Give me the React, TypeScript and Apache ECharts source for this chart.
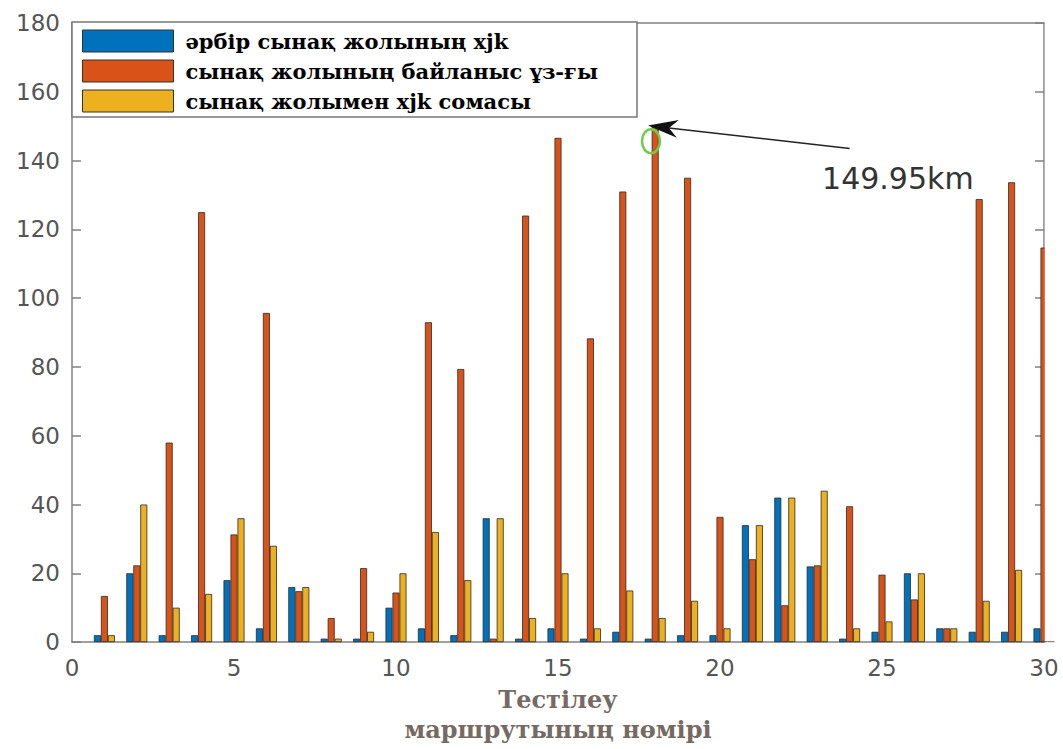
import React, { useEffect, useRef } from "react";
import * as echarts from "echarts";

const routes = [1, 2, 3, 4, 5, 6, 7, 8, 9, 10, 11, 12, 13, 14, 15, 16, 17, 18, 19, 20, 21, 22, 23, 24, 25, 26, 27, 28, 29, 30];
const seriesNames = [
  "әрбір сынақ жолының xjk",
  "сынақ жолының байланыс ұз-ғы",
  "сынақ жолымен xjk сомасы",
];
const blueValues = [2, 20, 2, 2, 18, 4, 16, 1, 1, 10, 4, 2, 36, 1, 4, 1, 3, 1, 2, 2, 34, 42, 22, 1, 3, 20, 4, 3, 3, 4];
const redValues = [13.4, 22.3, 58, 125, 31.3, 95.7, 14.8, 7, 21.5, 14.4, 93, 79.4, 1, 124, 146.6, 88.3, 131, 149.95, 135, 36.4, 24.1, 10.7, 22.3, 39.5, 19.6, 12.4, 4, 128.8, 133.7, 114.7];
const yellowValues = [2, 40, 10, 14, 36, 28, 16, 1, 3, 20, 32, 18, 36, 7, 20, 4, 15, 7, 12, 4, 34, 42, 44, 4, 6, 20, 4, 12, 21, 10];
const colors = ["#0072BD", "#D95319", "#EDB120"];
const xTitle = "Тестілеу\nмаршрутының нөмірі";
const annotationText = "149.95km";
// annotation anchor points in data coordinates
const arrowTip = [17.78, 150.2];
const arrowTail = [24.0, 143.5];
const textAnchor = [23.15, 134.7];
const ringCenter = [17.87, 145.6];

export default function App() {
  const ref = useRef<HTMLDivElement>(null);
  useEffect(() => {
    if (!ref.current) return;
    const chart = echarts.init(ref.current, undefined, { renderer: "svg" });
    const valueSets = [blueValues, redValues, yellowValues];
    const axisColor = "#808080";
    const labelFont = { fontFamily: "DejaVu Sans", fontSize: 23, color: "#555555" };
    const option: any = {
      animation: false,
      backgroundColor: "#ffffff",
      grid: { left: 72, right: 19, top: 23, bottom: 99, containLabel: false },
      legend: {
        orient: "vertical",
        left: 82,
        top: 29,
        padding: 0,
        itemGap: 6,
        itemWidth: 91,
        itemHeight: 22,
        icon: "rect",
        z: 6,
        selectedMode: false,
        itemStyle: { borderColor: "#333333", borderWidth: 1 },
        textStyle: {
          fontFamily: "DejaVu Serif",
          fontWeight: "bold",
          fontSize: 21,
          lineHeight: 24,
          color: "#000000",
          padding: [0, 0, 0, 7],
        },
        data: seriesNames,
      },
      xAxis: [
        {
          type: "value",
          min: 0,
          max: 30,
          interval: 5,
          position: "bottom",
          axisLine: { show: true, onZero: false, lineStyle: { color: axisColor, width: 1.5 } },
          axisTick: { show: false },
          splitLine: { show: false },
          axisLabel: { ...labelFont, margin: 14 },
          name: xTitle,
          nameLocation: "middle",
          nameGap: 37,
          nameTextStyle: {
            fontFamily: "DejaVu Serif",
            fontWeight: "bold",
            fontSize: 24,
            lineHeight: 30,
            color: "#756a64",
          },
        },
        {
          type: "value",
          min: 0,
          max: 30,
          interval: 5,
          position: "top",
          axisLine: { show: true, onZero: false, lineStyle: { color: axisColor, width: 1.5 } },
          axisTick: { show: false },
          splitLine: { show: false },
          axisLabel: { show: false },
        },
      ],
      yAxis: [
        {
          type: "value",
          min: 0,
          max: 180,
          interval: 20,
          position: "left",
          axisLine: { show: true, onZero: false, lineStyle: { color: axisColor, width: 1.5 } },
          axisTick: { show: true, inside: true, length: 9, lineStyle: { color: axisColor, width: 1.5 } },
          splitLine: { show: false },
          axisLabel: { ...labelFont, margin: 12 },
        },
        {
          type: "value",
          min: 0,
          max: 180,
          interval: 20,
          position: "right",
          axisLine: { show: true, onZero: false, lineStyle: { color: axisColor, width: 1.5 } },
          axisTick: { show: true, inside: true, length: 9, lineStyle: { color: axisColor, width: 1.5 } },
          splitLine: { show: false },
          axisLabel: { show: false },
        },
      ],
      series: seriesNames.map((name, i) => ({
        name,
        type: "bar",
        xAxisIndex: 0,
        yAxisIndex: 0,
        barWidth: 7,
        barGap: "0%",
        clip: true,
        itemStyle: { color: colors[i], borderColor: "#2b2b2b", borderWidth: 0.8 },
        data: routes.map((r, j) => [r, valueSets[i][j]]),
      })),
    };
    chart.setOption(option);

    const px = (p: number[]) => chart.convertToPixel({ xAxisIndex: 0, yAxisIndex: 0 }, p) as number[];
    const tip = px(arrowTip);
    const tail = px(arrowTail);
    const txt = px(textAnchor);
    const ring = px(ringCenter);
    const origin = px([0, 0]);
    const corner = px([30, 180]);
    const dx = tail[0] - tip[0];
    const dy = tail[1] - tip[1];
    const len = Math.sqrt(dx * dx + dy * dy);
    const ux = dx / len;
    const uy = dy / len;
    const nx = -uy;
    const ny = ux;
    const headLen = 30;
    const headHalf = 9;
    const back = [tip[0] + ux * headLen, tip[1] + uy * headLen];
    const notch = [tip[0] + ux * headLen * 0.7, tip[1] + uy * headLen * 0.7];

    chart.setOption({
      graphic: [
        {
          // hides the part of the bars that lies beyond the right edge of the plot
          type: "rect",
          z: 3,
          shape: { x: corner[0] + 0.8, y: 0, width: 40, height: origin[1] - 0.8 },
          style: { fill: "#ffffff" },
        },
        {
          type: "rect",
          z: 3,
          shape: { x: 72, y: 22, width: 565, height: 95 },
          style: { fill: "#ffffff", stroke: "#777777", lineWidth: 1.5 },
        },
        {
          type: "line",
          z: 7,
          shape: { x1: notch[0], y1: notch[1], x2: tail[0], y2: tail[1] },
          style: { stroke: "#222222", lineWidth: 1.5 },
        },
        {
          type: "polygon",
          z: 7,
          shape: {
            points: [
              tip,
              [back[0] + nx * headHalf, back[1] + ny * headHalf],
              notch,
              [back[0] - nx * headHalf, back[1] - ny * headHalf],
            ],
          },
          style: { fill: "#111111" },
        },
        {
          type: "ellipse",
          z: 7,
          shape: { cx: ring[0], cy: ring[1], rx: 9, ry: 12 },
          style: { fill: "none", stroke: "#6ccf4a", lineWidth: 2.5 },
        },
        {
          type: "text",
          z: 7,
          x: txt[0],
          y: txt[1],
          style: {
            text: annotationText,
            fontFamily: "DejaVu Sans",
            fontSize: 30,
            fill: "#333333",
            verticalAlign: "middle",
            align: "left",
          },
        },
      ],
    });

    return () => chart.dispose();
  }, []);
  return (
    <div
      ref={ref}
      style={{ position: "fixed", left: 0, top: 0, width: 1063, height: 749, background: "#fff" }}
    />
  );
}
